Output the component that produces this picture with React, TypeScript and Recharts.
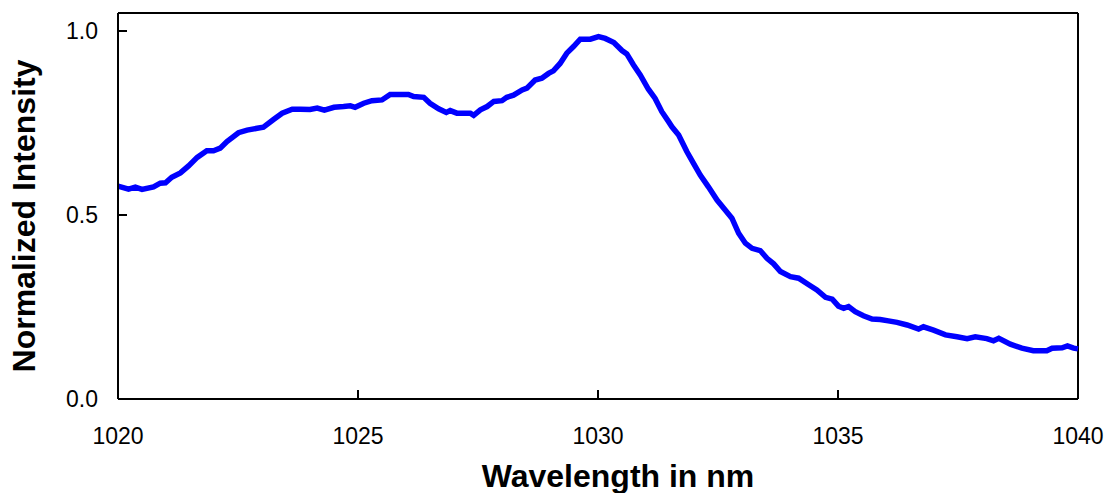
import { Line, LineChart, ReferenceLine, XAxis, YAxis } from "recharts";

document.body.style.margin = "0";

const FONT = '"Liberation Sans", Arial, sans-serif';

const wavelength = [
  1020.0, 1020.22, 1020.36, 1020.5, 1020.74, 1020.88, 1020.99, 1021.12, 1021.3, 1021.47,
  1021.65, 1021.85, 1021.99, 1022.13, 1022.27, 1022.51, 1022.69, 1022.9, 1023.03, 1023.24,
  1023.42, 1023.63, 1023.8, 1024.0, 1024.15, 1024.3, 1024.5, 1024.7, 1024.84, 1024.94,
  1025.12, 1025.29, 1025.5, 1025.67, 1026.05, 1026.16, 1026.37, 1026.5, 1026.68, 1026.84,
  1026.92, 1027.06, 1027.34, 1027.41, 1027.55, 1027.69, 1027.83, 1028.0, 1028.1, 1028.24,
  1028.42, 1028.52, 1028.69, 1028.83, 1028.97, 1029.07, 1029.21, 1029.35, 1029.49, 1029.63,
  1029.84, 1030.01, 1030.15, 1030.33, 1030.5, 1030.6, 1030.74, 1030.88, 1031.05, 1031.19,
  1031.33, 1031.47, 1031.54, 1031.68, 1031.85, 1031.99, 1032.13, 1032.3, 1032.48, 1032.65,
  1032.79, 1032.93, 1033.07, 1033.21, 1033.38, 1033.52, 1033.66, 1033.8, 1034.01, 1034.18,
  1034.39, 1034.56, 1034.74, 1034.88, 1035.01, 1035.12, 1035.22, 1035.36, 1035.53, 1035.71,
  1035.88, 1036.05, 1036.23, 1036.44, 1036.68, 1036.78, 1036.99, 1037.24, 1037.48, 1037.69,
  1037.86, 1038.1, 1038.24, 1038.35, 1038.59, 1038.83, 1039.07, 1039.35, 1039.46, 1039.67,
  1039.78, 1039.91, 1040.0,
];

const intensity = [
  0.578, 0.57, 0.575, 0.569, 0.576, 0.586, 0.587, 0.602, 0.614, 0.633,
  0.656, 0.674, 0.674, 0.681, 0.699, 0.723, 0.73, 0.735, 0.738, 0.759,
  0.776, 0.787, 0.787, 0.786, 0.79, 0.784, 0.792, 0.794, 0.796, 0.792,
  0.803, 0.81, 0.812, 0.827, 0.827, 0.821, 0.819, 0.803, 0.788, 0.778,
  0.783, 0.776, 0.776, 0.77, 0.785, 0.794, 0.808, 0.81, 0.819, 0.825,
  0.839, 0.844, 0.866, 0.871, 0.884, 0.891, 0.911, 0.939, 0.957, 0.977,
  0.977, 0.984, 0.979, 0.968, 0.946, 0.937, 0.907, 0.88, 0.841, 0.816,
  0.78, 0.753, 0.739, 0.717, 0.672, 0.64, 0.608, 0.576, 0.54, 0.513,
  0.491, 0.45, 0.423, 0.409, 0.403, 0.382, 0.367, 0.346, 0.332, 0.328,
  0.31, 0.296, 0.276, 0.271, 0.252, 0.246, 0.251, 0.237, 0.226, 0.217,
  0.216, 0.212, 0.208, 0.201, 0.19, 0.196, 0.187, 0.174, 0.169, 0.164,
  0.169, 0.164, 0.158, 0.165, 0.149, 0.138, 0.131, 0.131, 0.138, 0.139,
  0.144, 0.138, 0.136,
];

const xTicks = [1020, 1025, 1030, 1035, 1040];
const yTicks = [0, 0.5, 1.0];
const X_MIN = 1020;
const X_MAX = 1040;
const Y_MAX = 1.048;

const data = wavelength.map((w, i) => ({ wl: w, v: intensity[i] }));

const AXIS_LINE = { stroke: "#000", strokeWidth: 2 };
const TICK_LEN = 9;
const X_GAP = 29; // label cap top below the axis line
const Y_GAP = 20; // label right edge left of the axis line

// inward ticks drawn as small filled rects, label below / left
function XTick({ x, y, payload }: any) {
  return (
    <g>
      <rect x={Math.round(x) - 1} y={y - TICK_LEN} width={2} height={TICK_LEN} fill="#000" />
      <text x={x} y={y + X_GAP} dy="0.71em" textAnchor="middle" fontFamily={FONT} fontSize={23} fill="#000">
        {payload.value}
      </text>
    </g>
  );
}

function YTick({ x, y, payload }: any) {
  return (
    <g>
      <rect x={x} y={Math.round(y) - 1} width={TICK_LEN} height={2} fill="#000" />
      <text x={x - Y_GAP} y={y} dy="0.355em" textAnchor="end" fontFamily={FONT} fontSize={23} fill="#000">
        {payload.value.toFixed(1)}
      </text>
    </g>
  );
}

export default function App() {
  return (
    <LineChart width={1109} height={493} data={data} margin={{ top: 13, right: 31, bottom: 0, left: 0 }}>
      <XAxis
        dataKey="wl"
        type="number"
        domain={[X_MIN, X_MAX]}
        ticks={xTicks}
        interval={0}
        height={94}
        tickSize={0}
        tickMargin={0}
        tickLine={false}
        tick={<XTick />}
        axisLine={AXIS_LINE}
        label={{
          content: () => (
            <text x={618} y={487} textAnchor="middle" fontFamily={FONT} fontWeight="bold" fontSize={32} fill="#000">
              Wavelength in nm
            </text>
          ),
        }}
      />
      <YAxis
        type="number"
        domain={[0, Y_MAX]}
        ticks={yTicks}
        interval={0}
        width={118}
        tickSize={0}
        tickMargin={0}
        tickLine={false}
        tick={<YTick />}
        axisLine={AXIS_LINE}
        label={{
          content: () => (
            <text
              x={35}
              y={216}
              transform="rotate(-90 35 216)"
              textAnchor="middle"
              fontFamily={FONT}
              fontWeight="bold"
              fontSize={32}
              fill="#000"
            >
              Normalized Intensity
            </text>
          ),
        }}
      />
      <ReferenceLine y={Y_MAX} stroke="#000" strokeWidth={2} ifOverflow="visible" />
      <ReferenceLine x={X_MAX} stroke="#000" strokeWidth={2} ifOverflow="visible" />
      <Line type="linear" dataKey="v" stroke="#0000ff" strokeWidth={5.5} dot={false} isAnimationActive={false} />
    </LineChart>
  );
}
